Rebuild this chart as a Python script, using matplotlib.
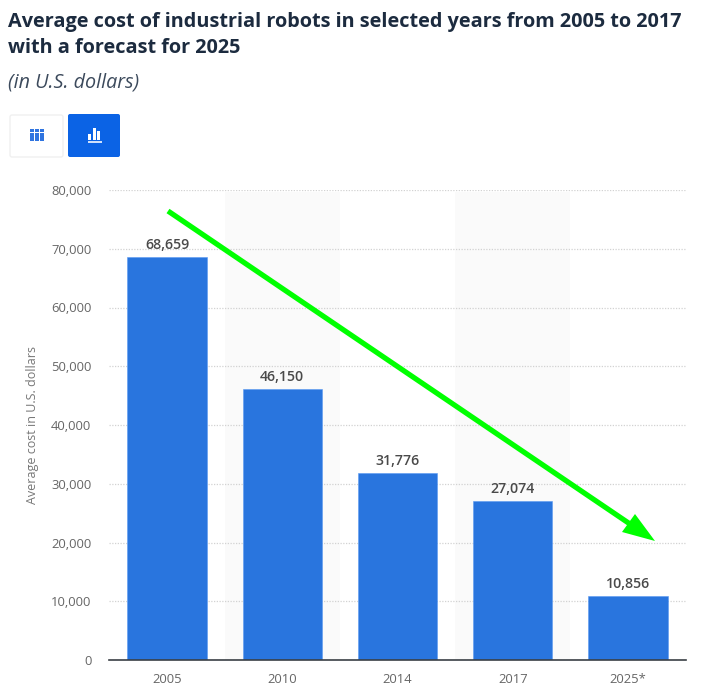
import matplotlib
matplotlib.use("Agg")
import matplotlib.pyplot as plt
from matplotlib.patches import FancyBboxPatch, Rectangle, Polygon
from matplotlib.ticker import FuncFormatter

categories = ["2005", "2010", "2014", "2017", "2025*"]
values = [68659, 46150, 31776, 27074, 10856]
y_ticks = [0, 10000, 20000, 30000, 40000, 50000, 60000, 70000, 80000]
title_lines = ["Average cost of industrial robots in selected years from 2005 to 2017",
               "with a forecast for 2025"]
subtitle = "(in U.S. dollars)"
y_label = "Average cost in U.S. dollars"

W, H = 716, 691
fig = plt.figure(figsize=(W / 100, H / 100), dpi=100, facecolor="white")

# overlay in pixel coordinates (y downwards) for page furniture
page = fig.add_axes([0, 0, 1, 1], zorder=0)
page.set_xlim(0, W)
page.set_ylim(H, 0)
page.axis("off")

L, R, T, B = 109.4, 685.6, 190, 660
ax = fig.add_axes([L / W, 1 - B / H, (R - L) / W, (B - T) / H], zorder=1)
ax.patch.set_alpha(0)
x = list(range(len(categories)))
ax.set_xlim(-0.5, len(categories) - 0.5)
ax.set_ylim(0, 80000)

for i in x:
    if i % 2 == 1:
        ax.axvspan(i - 0.5, i + 0.5, ymax=0.995, color="#fafafa", lw=0, zorder=0)
ax.set_yticks(y_ticks)
ax.yaxis.set_major_formatter(FuncFormatter(lambda v, _: f"{int(v):,}"))
ax.grid(axis="y", color="#d2d2d2", lw=0.9, ls=(0, (1, 1.2)), zorder=1)
ax.set_axisbelow(True)

bars = ax.bar(x, values, width=0.69, color="#2975de", edgecolor="#5a9af2", lw=0.4, zorder=2)
for xi, v in zip(x, values):
    ax.annotate(f"{v:,}", (xi, v), xytext=(0, 3.5), textcoords="offset points",
                ha="center", va="bottom", fontsize=10.2, fontweight="semibold",
                color="#4a4a4a", family="Open Sans", zorder=3)

ax.set_xticks(x, categories)
for s in ["top", "right", "left"]:
    ax.spines[s].set_visible(False)
ax.spines["bottom"].set_color("#3a3f45")
ax.spines["bottom"].set_linewidth(1.2)
ax.tick_params(axis="both", length=0, labelsize=9.4, labelcolor="#666666")
ax.tick_params(axis="x", pad=9.5)
ax.tick_params(axis="y", pad=13)
for lab in ax.get_xticklabels() + ax.get_yticklabels():
    lab.set_family("Open Sans")
page.text(33, 425, y_label, rotation=90, ha="center", va="center",
          fontsize=9.0, color="#777777", family="Open Sans")

# title block
page.text(8, 27, title_lines[0], fontsize=14.3, fontweight="bold", color="#1c2b3f",
          family="Open Sans", va="baseline")
page.text(8, 53, title_lines[1], fontsize=14.3, fontweight="bold", color="#1c2b3f",
          family="Open Sans", va="baseline")
page.text(8, 87, subtitle, fontsize=14.2, style="italic", color="#3c4a5c",
          family="Open Sans", va="baseline")

# view switch buttons
page.add_patch(FancyBboxPatch((10, 115), 53, 42, boxstyle="round,pad=0,rounding_size=2",
                              fc="white", ec="#f0f0f0", lw=1))
page.add_patch(FancyBboxPatch((68, 114), 52, 43, boxstyle="round,pad=0,rounding_size=2",
                              fc="#0b63e5", ec="none"))
for r in range(3):
    for c in range(3):
        page.add_patch(Rectangle((30 + c * 5, 128.5 + r * 4.4), 4.2, 3.7, fc="#2f74e0", ec="none"))
for bx, top in [(88, 134), (92.5, 128), (97, 131)]:
    page.add_patch(Rectangle((bx, top), 3.2, 140 - top, fc="white", ec="none"))
page.add_patch(Rectangle((87.5, 141), 14, 1.6, fc="#cfe0fb", ec="none"))

# annotation arrow
arrow = fig.add_axes([0, 0, 1, 1], zorder=2)
arrow.set_xlim(0, W)
arrow.set_ylim(H, 0)
arrow.axis("off")
arrow.plot([168, 630], [211, 524], color="#00ff00", lw=3.8, solid_capstyle="butt")
arrow.add_patch(Polygon([(655, 541), (622, 532), (635, 514)], fc="#00ff00", ec="none"))

fig.savefig("out.png", dpi=100)
